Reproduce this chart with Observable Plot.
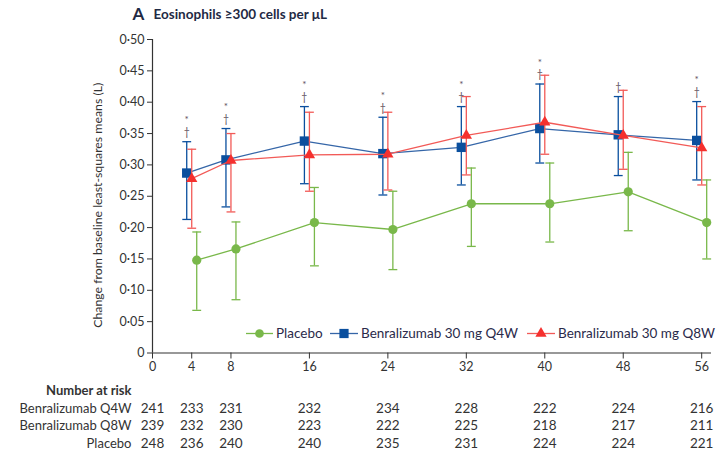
<!DOCTYPE html>
<html>
<head>
<meta charset="utf-8">
<script src="https://cdn.jsdelivr.net/npm/d3@7"></script>
<script src="https://cdn.jsdelivr.net/npm/@observablehq/plot@0.6"></script>
<style>
  html, body { margin: 0; padding: 0; background: #fff; }
  #chart { position: relative; width: 727px; height: 453px; }
</style>
</head>
<body>
<div id="chart"></div>
<script>
const weeks = [4, 8, 16, 24, 32, 40, 48, 56];

const q4wMean = [0.287, 0.308, 0.338, 0.318, 0.328, 0.358, 0.348, 0.339];
const q4wLow  = [0.213, 0.233, 0.270, 0.252, 0.268, 0.303, 0.283, 0.276];
const q4wHigh = [0.337, 0.358, 0.393, 0.376, 0.393, 0.429, 0.409, 0.401];

const q8wMean = [0.278, 0.307, 0.316, 0.317, 0.347, 0.368, 0.347, 0.327];
const q8wLow  = [0.199, 0.225, 0.258, 0.260, 0.284, 0.317, 0.293, 0.268];
const q8wHigh = [0.325, 0.350, 0.384, 0.384, 0.409, 0.443, 0.419, 0.393];

const placeboMean = [0.148, 0.166, 0.208, 0.197, 0.238, 0.238, 0.257, 0.208];
const placeboLow  = [0.068, 0.085, 0.139, 0.133, 0.170, 0.177, 0.195, 0.150];
const placeboHigh = [0.193, 0.209, 0.264, 0.258, 0.295, 0.303, 0.320, 0.276];

const starMarks   = ["*", "*", "*", "*", "*", "*", "", "*"];
const daggerMarks = ["†", "†", "†", "†", "†", "†", "†", "†"];

const xTicks = [0, 4, 8, 16, 24, 32, 40, 48, 56];
const yTicks = [0, 0.05, 0.10, 0.15, 0.20, 0.25, 0.30, 0.35, 0.40, 0.45, 0.50];

const riskWeeks   = [0, 4, 8, 16, 24, 32, 40, 48, 56];
const riskQ4W     = [241, 233, 231, 232, 234, 228, 222, 224, 216];
const riskQ8W     = [239, 232, 230, 223, 222, 225, 218, 217, 211];
const riskPlacebo = [248, 236, 240, 240, 235, 231, 224, 224, 221];

const seriesNames = ["Placebo", "Benralizumab 30 mg Q4W", "Benralizumab 30 mg Q8W"];
const riskLabels = ["Benralizumab Q4W", "Benralizumab Q8W", "Placebo"];

const GREEN = "#79b84a", BLUE = "#0a4f9e", RED = "#f5302e", BLUE_LINE = "#3566a8", RED_LINE = "#f25a57";
const SIG = "#5d4f5c";
const FONT = "Lato, 'Open Sans', sans-serif";

const mk = (mean, lo, hi) => weeks.map((w, i) => ({week: w, mean: mean[i], lo: lo[i], hi: hi[i], star: starMarks[i], dagger: daggerMarks[i]}));
const placebo = mk(placeboMean, placeboLow, placeboHigh);
const q4w = mk(q4wMean, q4wLow, q4wHigh);
const q8w = mk(q8wMean, q8wLow, q8wHigh);

const capSymbol = {
  draw(context, size) {
    const w = Math.sqrt(size) / 2;
    context.moveTo(-w, 0);
    context.lineTo(w, 0);
  }
};

const fmt = d => d === 0 ? "0" : d3.format(".2f")(d).replace(".", "·");

function errorMarks(data, color, dx) {
  return [
    Plot.ruleX(data, {x: "week", y1: "lo", y2: "hi", stroke: color, strokeWidth: 1.3, dx}),
    Plot.dot(data, {x: "week", y: "lo", symbol: capSymbol, r: 5, stroke: color, strokeWidth: 1.3, dx}),
    Plot.dot(data, {x: "week", y: "hi", symbol: capSymbol, r: 5, stroke: color, strokeWidth: 1.3, dx})
  ];
}

const riskRow = (vals, dy) => Plot.text(riskWeeks.map((w, i) => ({w, v: vals[i]})), {
  x: "w", text: "v", frameAnchor: "bottom", dy, fontSize: 13.5, fill: "#333", lineAnchor: "middle"
});
const riskLabel = (label, dy, bold) => Plot.text([label], {
  frameAnchor: "bottom-left", dx: -21, dy, textAnchor: "end", fontSize: 13,
  fontWeight: bold ? "bold" : "normal", fill: "#333", lineAnchor: "middle"
});

const plot = Plot.plot({
  width: 727,
  height: 453,
  marginTop: 39,
  marginBottom: 100.5,
  marginLeft: 152,
  marginRight: 16,
  style: {fontFamily: FONT, fontSize: "12.5px", color: "#333", background: "#fff"},
  x: {domain: [0, 57]},
  y: {domain: [0, 0.5]},
  marks: [
    Plot.axisY({ticks: yTicks, tickFormat: fmt, tickSize: 5, tickPadding: 3, label: null, fontSize: 12.5, stroke: "#333"}),
    Plot.axisX({ticks: xTicks, tickSize: 6, tickPadding: 3, label: null, fontSize: 12.5, stroke: "#333"}),
    Plot.ruleX([0], {stroke: "#333", strokeWidth: 1.2}),
    Plot.ruleY([0], {stroke: "#333", strokeWidth: 1.2}),

    ...errorMarks(placebo, GREEN, 5),
    Plot.line(placebo, {x: "week", y: "mean", stroke: GREEN, strokeWidth: 1.3, dx: 5}),
    Plot.dot(placebo, {x: "week", y: "mean", symbol: "circle", r: 4.6, fill: GREEN, dx: 5}),

    ...errorMarks(q4w, BLUE, -5),
    Plot.line(q4w, {x: "week", y: "mean", stroke: BLUE_LINE, strokeWidth: 1.3, dx: -5}),
    Plot.dot(q4w, {x: "week", y: "mean", symbol: "square", r: 5.3, fill: BLUE, dx: -5}),

    ...errorMarks(q8w, RED_LINE, 0),
    Plot.line(q8w, {x: "week", y: "mean", stroke: RED_LINE, strokeWidth: 1.3}),
    Plot.dot(q8w, {x: "week", y: "mean", symbol: "triangle", r: 4.2, fill: RED}),

    Plot.text(q4w.filter(d => d.dagger), {x: "week", y: "hi", text: "dagger", dx: -5, dy: -9, fontSize: 10.5, fill: SIG, lineAnchor: "middle"}),
    Plot.text(q4w.filter(d => d.star), {x: "week", y: "hi", text: "star", dx: -5, dy: -21.5, fontSize: 10, fill: SIG, lineAnchor: "middle"}),

    Plot.text(["Change from baseline least-squares means (L)"], {frameAnchor: "left", dx: -54, dy: 9, rotate: -90, textAnchor: "middle", fontSize: 12.3, fill: "#333"}),

    Plot.text(["A"], {frameAnchor: "top-left", dx: -20, dy: -25, textAnchor: "start", fontSize: 17, fontWeight: "bold", fill: "#1f2a44", lineAnchor: "middle"}),
    Plot.text(["Eosinophils ≥300 cells per μL"], {frameAnchor: "top-left", dx: 1, dy: -25, textAnchor: "start", fontSize: 13.5, fontWeight: "bold", fill: "#1f2a44", lineAnchor: "middle"}),

    riskLabel("Number at risk", 37.5, true),
    riskLabel(riskLabels[0], 55.5, false),
    riskLabel(riskLabels[1], 73, false),
    riskLabel(riskLabels[2], 90.5, false),
    riskRow(riskQ4W, 55.5),
    riskRow(riskQ8W, 73),
    riskRow(riskPlacebo, 90.5)
  ]
});

document.getElementById("chart").appendChild(plot);

// Legend drawn inside the plot's SVG
const svg = d3.select(plot);
const legendItems = [
  {name: seriesNames[0], line: GREEN, fill: GREEN, symbol: d3.symbolCircle, size: 60, x: 246, w: 27},
  {name: seriesNames[1], line: BLUE_LINE, fill: BLUE, symbol: d3.symbolSquare, size: 85, x: 330, w: 28},
  {name: seriesNames[2], line: RED_LINE, fill: RED, symbol: d3.symbolTriangle, size: 55, x: 527, w: 28}
];
const lg = svg.append("g").attr("transform", "translate(0,333.5)")
  .attr("font-family", FONT).attr("font-size", 13.5).attr("text-anchor", "start");
for (const it of legendItems) {
  const g = lg.append("g").attr("transform", `translate(${it.x},0)`);
  g.append("line").attr("x1", 0).attr("x2", it.w).attr("stroke", it.line).attr("stroke-width", 1.3);
  g.append("path").attr("d", d3.symbol(it.symbol, it.size)()).attr("transform", `translate(${it.w / 2},0)`).attr("fill", it.fill);
  g.append("text").attr("x", it.w + 3).attr("dy", "0.35em").attr("text-anchor", "start").attr("fill", "#2a2a4a").text(it.name);
}
</script>
</body>
</html>
